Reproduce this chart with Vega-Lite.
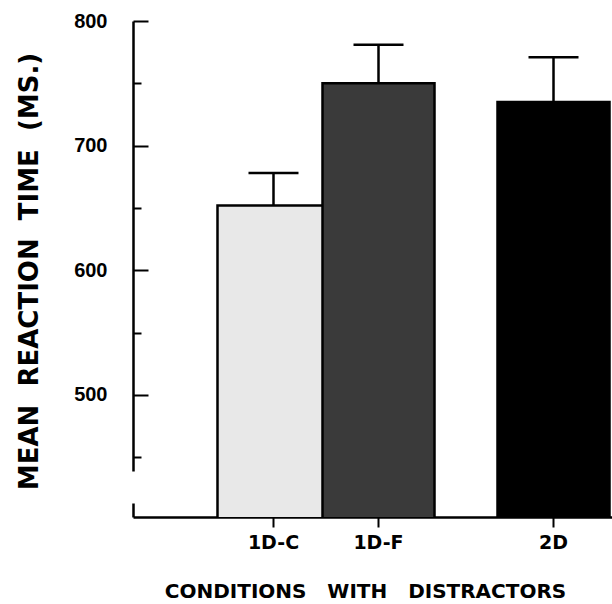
{
  "$schema": "https://vega.github.io/schema/vega-lite/v6.json",
  "autosize": {"type": "none"},
  "padding": {"left": 133, "top": 21, "right": 0, "bottom": 87},
  "width": 526,
  "height": 496,
  "background": "white",
  "config": {"view": {"stroke": null}},
  "data": {"values": [
    {"cond": "1D-C", "rt": 652, "hi": 678},
    {"cond": "1D-F", "rt": 750, "hi": 781},
    {"cond": "2D", "rt": 735, "hi": 771}
  ]},
  "encoding": {
    "x": {
      "field": "cond",
      "type": "nominal",
      "scale": {
        "type": "band",
        "domain": ["s1", "s2", "s3", "1D-C", "s4", "s5", "1D-F", "s6", "s7", "s8", "s9", "2D", "s10", "s11"],
        "paddingInner": 0,
        "paddingOuter": 0.514
      },
      "axis": {
        "values": ["1D-C", "1D-F", "2D"],
        "title": "CONDITIONS\u00a0\u00a0\u00a0WITH\u00a0\u00a0\u00a0DISTRACTORS",
        "titleFont": "DejaVu Sans",
        "titleFontSize": 20,
        "titleFontWeight": "bold",
        "titleColor": "black",
        "titleX": 232,
        "titleY": 74,
        "titleAlign": "center",
        "titleBaseline": "middle",
        "labelAngle": 0,
        "labelFont": "DejaVu Sans",
        "labelFontSize": 19,
        "labelFontWeight": "bold",
        "labelColor": "black",
        "labelPadding": 6,
        "tickSize": 10,
        "tickWidth": 2,
        "tickColor": "black",
        "domainColor": "black",
        "domainWidth": 2.5,
        "grid": false
      }
    }
  },
  "layer": [
    {
      "mark": {"type": "bar", "width": {"band": 3.2}, "stroke": "black", "strokeWidth": 2.5, "clip": true},
      "encoding": {
        "y": {
          "field": "rt",
          "type": "quantitative",
          "scale": {"domain": [402, 800], "zero": false, "nice": false},
          "axis": {
            "values": [450, 500, 550, 600, 650, 700, 750, 800],
            "labelExpr": "datum.value % 100 === 0 ? datum.label : ''",
            "tickSize": {"condition": {"test": "datum.value % 100 === 0", "value": -15}, "value": -8},
            "tickWidth": 2,
            "tickColor": "black",
            "domainColor": "black",
            "domainWidth": 2.5,
            "domainDash": [14, 32, 1000],
            "labelFont": "Liberation Sans",
            "labelFontSize": 20,
            "labelFontWeight": "bold",
            "labelColor": "black",
            "labelPadding": 41,
            "grid": false,
            "title": "MEAN\u00a0\u00a0REACTION\u00a0\u00a0TIME\u00a0\u00a0(MS.)",
            "titleFont": "DejaVu Sans",
            "titleFontSize": 26,
            "titleFontWeight": "bold",
            "titleColor": "black",
            "titleX": -104,
            "titleY": 250,
            "titleAngle": 270,
            "titleAlign": "center",
            "titleBaseline": "middle"
          }
        },
        "color": {
          "field": "cond",
          "type": "nominal",
          "scale": {"domain": ["1D-C", "1D-F", "2D"], "range": ["#e8e8e8", "#3a3a3a", "#000000"]},
          "legend": null
        }
      }
    },
    {
      "mark": {"type": "rule", "color": "black", "strokeWidth": 2.5},
      "encoding": {
        "y": {"field": "rt", "type": "quantitative"},
        "y2": {"field": "hi"}
      }
    },
    {
      "mark": {"type": "tick", "color": "black", "thickness": 2.5, "size": 50, "opacity": 1},
      "encoding": {
        "y": {"field": "hi", "type": "quantitative"}
      }
    }
  ]
}
